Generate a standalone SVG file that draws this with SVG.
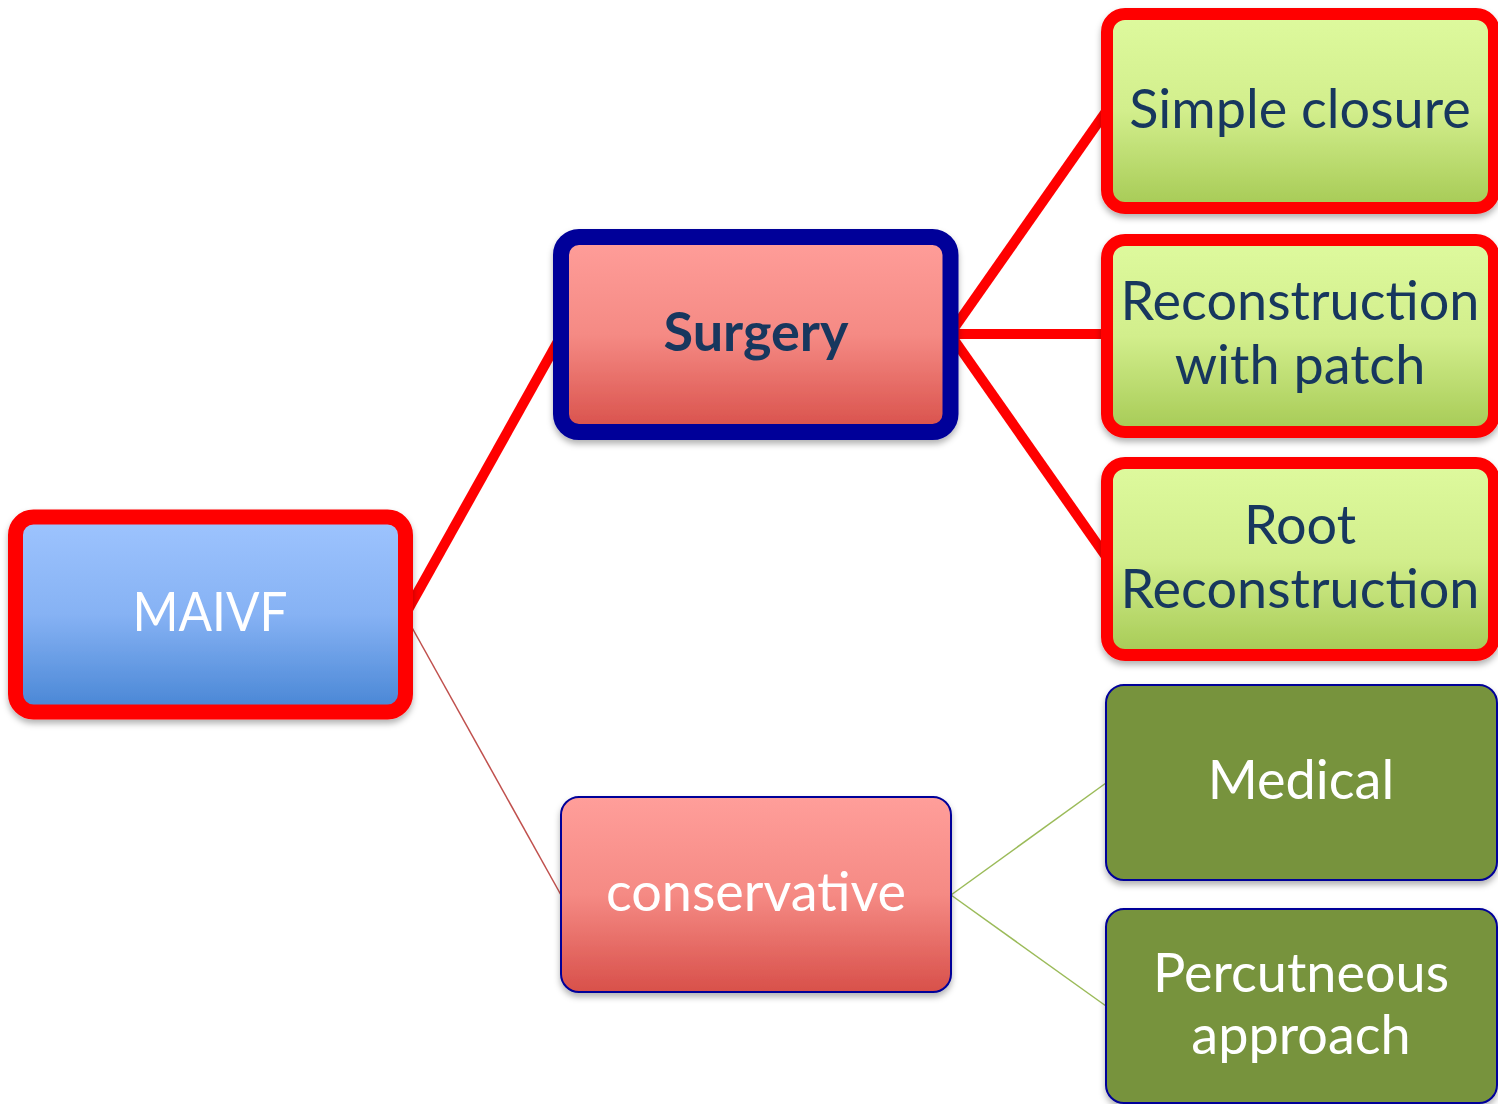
<svg xmlns="http://www.w3.org/2000/svg" width="1498" height="1104" viewBox="0 0 1498 1104">
<style>
.t{font-family:Lato,"Open Sans","Liberation Sans",sans-serif;text-anchor:middle;font-size:54px}
.w{fill:#ffffff}
.n{fill:#17375E}
</style>
<defs>
<linearGradient id="gBlue" x1="0" y1="0" x2="0" y2="1"><stop offset="0" stop-color="#9EC4FE"/><stop offset="0.5" stop-color="#86B2F4"/><stop offset="1" stop-color="#4785D4"/></linearGradient>
<linearGradient id="gRed" x1="0" y1="0" x2="0" y2="1"><stop offset="0" stop-color="#FF9E9A"/><stop offset="0.5" stop-color="#F58A84"/><stop offset="1" stop-color="#D8504A"/></linearGradient>
<linearGradient id="gGreen" x1="0" y1="0" x2="0" y2="1"><stop offset="0" stop-color="#DEFA9E"/><stop offset="0.5" stop-color="#D2EE8C"/><stop offset="1" stop-color="#A6CA55"/></linearGradient>
<filter id="sh" x="-10%" y="-10%" width="120%" height="130%"><feDropShadow dx="0" dy="4" stdDeviation="3" flood-color="#000" flood-opacity="0.3"/></filter>
</defs>
<g id="connectors" fill="none">
<line x1="405" y1="615" x2="561" y2="336" stroke="#FF0000" stroke-width="10"/>
<line x1="950" y1="334" x2="1107" y2="110" stroke="#FF0000" stroke-width="10"/>
<line x1="950" y1="334" x2="1107" y2="334" stroke="#FF0000" stroke-width="10"/>
<line x1="950" y1="334" x2="1107" y2="558" stroke="#FF0000" stroke-width="10"/>
<line x1="405" y1="615" x2="561" y2="895" stroke="#C0504D" stroke-width="1.5"/>
<line x1="951" y1="895" x2="1106" y2="783" stroke="#9BBB59" stroke-width="1.5"/>
<line x1="951" y1="895" x2="1106" y2="1006" stroke="#9BBB59" stroke-width="1.5"/>
</g>
<g id="maivf">
<rect x="15.5" y="517" width="390" height="195" rx="18" fill="url(#gBlue)" stroke="#FF0000" stroke-width="15" filter="url(#sh)"/>
<text class="t w" x="210" y="631" textLength="155" lengthAdjust="spacingAndGlyphs">MAIVF</text>
</g>
<g id="surgery">
<rect x="561" y="237" width="389.5" height="195" rx="18" fill="url(#gRed)" stroke="#000099" stroke-width="16" filter="url(#sh)"/>
<text class="t n" x="756" y="351" font-weight="bold">Surgery</text>
</g>
<g id="simple-closure">
<rect x="1107" y="14" width="387" height="194" rx="18" fill="url(#gGreen)" stroke="#FF0000" stroke-width="12" filter="url(#sh)"/>
<text class="t n" x="1300" y="128">Simple closure</text>
</g>
<g id="reconstruction-patch">
<rect x="1107" y="240" width="387" height="192" rx="18" fill="url(#gGreen)" stroke="#FF0000" stroke-width="12" filter="url(#sh)"/>
<text class="t n" x="1300" y="320">Reconstruction</text>
<text class="t n" x="1300" y="384">with patch</text>
</g>
<g id="root-reconstruction">
<rect x="1107" y="463" width="387" height="192" rx="18" fill="url(#gGreen)" stroke="#FF0000" stroke-width="12" filter="url(#sh)"/>
<text class="t n" x="1300" y="544">Root</text>
<text class="t n" x="1300" y="608">Reconstruction</text>
</g>
<g id="conservative">
<rect x="561" y="797" width="390" height="195" rx="18" fill="url(#gRed)" stroke="#000099" stroke-width="2" filter="url(#sh)"/>
<text class="t w" x="756" y="911">conservative</text>
</g>
<g id="medical">
<rect x="1106" y="685" width="391" height="195" rx="18" fill="#77933C" stroke="#000099" stroke-width="2" filter="url(#sh)"/>
<text class="t w" x="1301" y="799">Medical</text>
</g>
<g id="percutneous">
<rect x="1106" y="909" width="391" height="194" rx="18" fill="#77933C" stroke="#000099" stroke-width="2" filter="url(#sh)"/>
<text class="t w" x="1301" y="992">Percutneous</text>
<text class="t w" x="1301" y="1054">approach</text>
</g>
</svg>
